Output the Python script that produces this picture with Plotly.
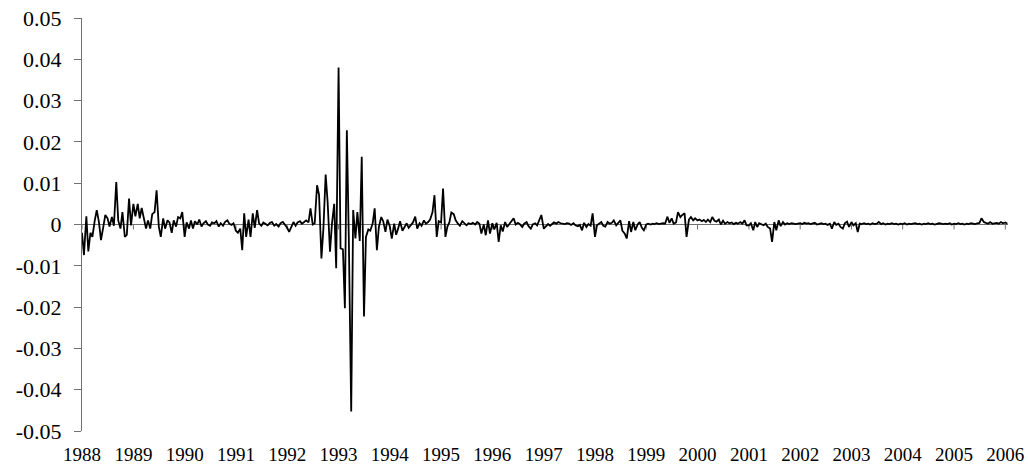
import pandas as pd
import plotly.graph_objects as go

# Semi-monthly spread series, one list per year (24 observations each)
y1988 = [-0.002, -0.0074, 0.002, -0.0065, -0.002, -0.003, 0.001, 0.0035, 0.0005, -0.0038, -0.0005, 0.0023,
         0.0015, -0.0005, 0.0018, -0.0003, 0.0103, 0.001, -0.001, 0.003, -0.003, -0.0025, 0.0063, -0.0002]
y1989 = [0.005, 0.002, 0.005, 0.0015, 0.004, 0.0015, -0.001, 0.001, -0.001, 0.0025, 0.003, 0.0083,
         -0.0005, -0.003, 0.0015, -0.001, 0.001, 0.0005, -0.002, 0.001, -0.0005, 0.0018, 0.0015, 0.003]
y1990 = [-0.003, 0.0005, -0.001, 0.001, -0.001, 0.0008, 0.0, 0.0012, -0.0005, 0.0003, 0.0008, 0.0,
         -0.0003, 0.0005, 0.0003, 0.0008, -0.0005, 0.0003, -0.0003, 0.0006, 0.001, 0.0002, -0.0001, 0.0003]
y1991 = [-0.0015, -0.002, -0.001, -0.0062, 0.0027, -0.003, 0.0012, -0.003, 0.0027, -0.0008, 0.0035, 0.0003,
         -0.0003, 0.0005, 0.0002, -0.0002, 0.0004, 0.0006, -0.0003, 0.0001, -0.0005, 0.0003, 0.0006, 0.0]
y1992 = [-0.0008, -0.0018, -0.0005, 0.0006, -0.0003, 0.0005, 0.0008, 0.0002, 0.0006, 0.001, 0.0005, 0.0039,
         0.0, 0.0003, 0.0095, 0.0072, -0.0082, -0.001, 0.0121, 0.0055, -0.0066, 0.0002, 0.005, -0.0106]
y1993 = [0.038, -0.0058, -0.006, -0.0203, 0.0228, -0.0034, -0.0453, 0.0035, -0.0034, 0.003, -0.004, 0.0164,
         -0.0223, -0.003, -0.0012, -0.0015, 0.0003, 0.0039, -0.0062, -0.0006, 0.0018, 0.0008, -0.0018, 0.0012]
y1994 = [-0.0005, -0.0034, 0.0002, -0.0025, -0.001, 0.0008, -0.0015, -0.0005, 0.0003, -0.0008, 0.0, 0.0005,
         0.0019, -0.001, 0.0003, -0.0003, 0.001, 0.0002, 0.0006, 0.0012, 0.003, 0.0071, -0.003, 0.0008]
y1995 = [0.0005, 0.0087, -0.003, -0.0005, 0.0005, 0.0029, 0.0025, 0.001, 0.0002, -0.0003, 0.0008, 0.0002,
         -0.0002, 0.0003, 0.0001, 0.0004, 0.0, 0.0006, 0.0002, -0.0022, 0.0, -0.0026, 0.001, -0.0022]
y1996 = [0.0003, -0.0012, 0.0004, -0.0042, -0.0002, -0.0017, 0.0006, -0.0006, 0.0002, 0.0008, 0.0015, 0.0,
         0.0004, 0.0001, -0.0006, 0.0002, 0.0006, -0.0004, -0.001, 0.0, 0.0003, -0.0002, 0.001, 0.0023]
y1997 = [-0.001, -0.0006, 0.0001, -0.0003, 0.0002, 0.0005, 0.0002, 0.0006, 0.0003, 0.0002, 0.0001, 0.0003,
         0.0002, -0.0001, 0.0003, -0.0002, -0.0004, -0.0001, -0.0014, 0.0004, -0.0006, 0.0001, -0.0003, 0.0027]
y1998 = [-0.003, -0.0002, 0.0003, 0.0006, -0.0003, -0.0005, 0.0006, 0.0002, 0.0004, 0.001, -0.0002, 0.0003,
         0.001, -0.0015, -0.0022, -0.0034, 0.0008, -0.0018, 0.0006, -0.0014, 0.0, 0.0006, -0.0008, -0.0014]
y1999 = [0.0, 0.0002, 0.0, 0.0002, 0.0001, 0.0003, 0.0001, 0.0002, 0.0003, 0.0002, 0.0019, 0.0004,
         0.0015, 0.0002, 0.0005, 0.003, 0.0018, 0.0023, 0.0027, -0.003, 0.0012, 0.0018, 0.001, 0.0015]
y2000 = [0.001, 0.0012, 0.0008, 0.0011, 0.0006, 0.0012, 0.0006, 0.0018, 0.0009, 0.0007, 0.0012, 0.0,
         0.0009, 0.0002, 0.0006, 0.0003, 0.0005, 0.0001, 0.0004, 0.0002, 0.0006, 0.0002, 0.001, -0.0002]
y2001 = [-0.0002, 0.0003, -0.0014, 0.0006, -0.0006, 0.0003, 0.0001, -0.0002, 0.0002, -0.0006, -0.001, -0.0042,
         0.0006, -0.0014, 0.001, -0.0004, 0.0006, 0.0, 0.0003, 0.0001, 0.0003, 0.0002, 0.0001, 0.0002]
y2002 = [0.0003, 0.0001, 0.0004, 0.0002, 0.0003, 0.0001, 0.0002, 0.0004, 0.0, 0.0002, 0.0003, 0.0001,
         0.0002, -0.0001, 0.0002, -0.001, 0.0006, -0.0001, 0.0002, -0.0006, -0.001, 0.0003, 0.0007, -0.0006]
y2003 = [0.0006, -0.0002, 0.0003, -0.0018, 0.0002, 0.0001, 0.0003, 0.0001, 0.0002, 0.0, 0.0003, 0.0001,
         0.0002, 0.0006, 0.0001, 0.0003, 0.0, 0.0002, 0.0001, 0.0003, 0.0001, 0.0002, 0.0, 0.0002]
y2004 = [0.0001, 0.0003, 0.0, 0.0002, 0.0001, 0.0002, 0.0003, 0.0001, 0.0002, 0.0, 0.0002, 0.0001,
         0.0003, 0.0001, 0.0002, 0.0, 0.0001, 0.0003, 0.0002, 0.0001, 0.0002, 0.0001, 0.0003, 0.0]
y2005 = [0.0002, 0.0001, 0.0003, 0.0001, 0.0002, 0.0, 0.0002, 0.0001, 0.0003, 0.0002, 0.0001, 0.0003,
         0.0004, 0.0015, 0.0006, 0.0004, 0.0002, 0.0006, 0.0002, 0.0003, 0.0004, 0.0002, 0.0006, 0.0003]
y2006 = [0.0005, 0.0002]

years = list(range(1988, 2007))
year_labels = [str(y) for y in years]

y_ticks = [0.05, 0.04, 0.03, 0.02, 0.01, 0.0, -0.01, -0.02, -0.03, -0.04, -0.05]
y_tick_labels = ["0.05", "0.04", "0.03", "0.02", "0.01", "0",
                 "-0.01", "-0.02", "-0.03", "-0.04", "-0.05"]

values = (y1988 + y1989 + y1990 + y1991 + y1992 + y1993 + y1994 + y1995 + y1996
          + y1997 + y1998 + y1999 + y2000 + y2001 + y2002 + y2003 + y2004 + y2005 + y2006)
dates = pd.date_range("1988-01-01", periods=len(values), freq="SMS")
date_str = [d.strftime("%Y-%m-%d") for d in dates]
year_ticks = [f"{y}-01-01" for y in years]
x_range = ["1988-01-01", "2006-01-20"]

serif = "'Liberation Serif', 'Times New Roman', serif"
x_font = dict(family=serif, size=19, color="#000000")
y_font = dict(family=serif, size=22, color="#000000")
grey = "#707070"
axis_tick_depth = 0.0012  # length of the year marks hanging below the zero line, in data units

fig = go.Figure()
# year marks on the zero-crossing category axis
fig.add_trace(go.Scatter(
    x=year_ticks, y=[0.0] * len(year_ticks), mode="markers",
    marker=dict(size=1, color="rgba(0,0,0,0)"),
    error_y=dict(type="data", symmetric=False, array=[0.0] * len(year_ticks),
                 arrayminus=[axis_tick_depth] * len(year_ticks),
                 color=grey, thickness=1, width=0),
    hoverinfo="skip", showlegend=False,
))
fig.add_trace(go.Scatter(
    x=date_str, y=values, mode="lines",
    line=dict(color="#000000", width=1.8),
    hoverinfo="skip", showlegend=False,
))

fig.update_layout(
    width=1028, height=470,
    margin=dict(l=82, r=20, t=18, b=39, autoexpand=False),
    paper_bgcolor="white", plot_bgcolor="white",
    font=x_font,
    showlegend=False,
    xaxis=dict(
        type="date", range=x_range, tickmode="array", tickvals=year_ticks, ticktext=year_labels,
        showgrid=False, zeroline=False, showline=False, ticks="",
        ticklabelstandoff=10, tickfont=x_font, automargin=False,
    ),
    yaxis=dict(
        range=[-0.05, 0.05], tickmode="array", tickvals=y_ticks, ticktext=y_tick_labels,
        showgrid=False,
        zeroline=True, zerolinecolor=grey, zerolinewidth=1,
        showline=True, linecolor=grey, linewidth=1.2,
        ticks="outside", ticklen=7, tickcolor=grey, tickwidth=1.2,
        ticklabelstandoff=8, tickfont=y_font, automargin=False,
    ),
)

fig.write_html("out.html")
